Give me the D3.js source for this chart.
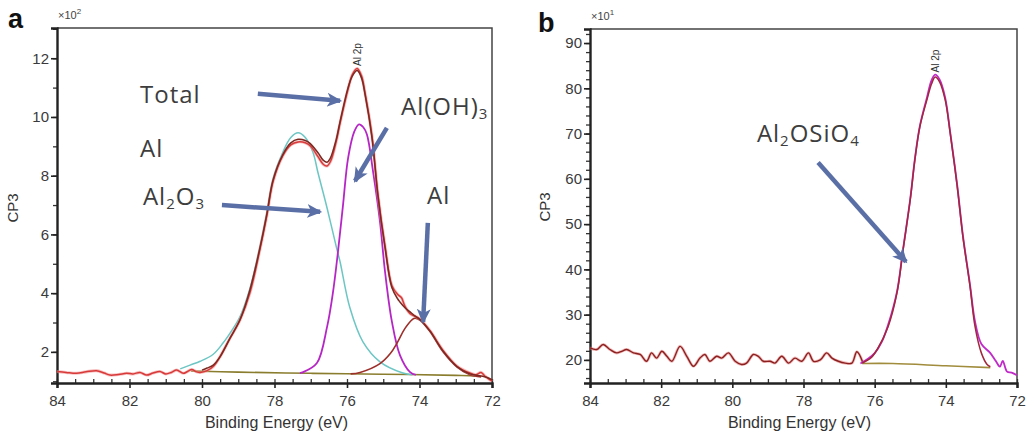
<!DOCTYPE html>
<html>
<head>
<meta charset="utf-8">
<script src="https://cdn.jsdelivr.net/npm/d3@7"></script>
<style>
  body { margin: 0; background: #fff; }
  svg { display: block; }
  .tick text { font-family: "Liberation Sans", Arial, sans-serif; font-size: 15px; fill: #3a3a3a; }
  .note { font-family: "Open Sans", Lato, sans-serif; font-size: 24px; fill: #3d3d3d; letter-spacing: 1px; }
</style>
</head>
<body>
<div id="chart"></div>
<script>
// ---- data (binding energy eV, counts) ----
const xTicks = [84, 82, 80, 78, 76, 74, 72];
const aYTicks = [2, 4, 6, 8, 10, 12];
const bYTicks = [20, 30, 40, 50, 60, 70, 80, 90];

// panel a, x10^2 counts
const aRaw = [[84,1.33],[83.75,1.3],[83.46,1.27],[83.2,1.32],[82.91,1.36],[82.7,1.28],[82.54,1.21],[82.3,1.23],[82.08,1.27],[81.9,1.25],[81.71,1.3],[81.53,1.21],[81.35,1.28],[81.16,1.33],[81.0,1.25],[80.85,1.3],[80.7,1.38],[80.52,1.27],[80.4,1.33],[80.28,1.4],[80.15,1.32],[80.05,1.3],[79.86,1.36],[79.69,1.5],[79.5,1.84],[79.23,2.46],[78.95,3.09],[78.68,4.0],[78.4,5.5],[78.21,6.65],[78.04,7.8],[77.77,8.68],[77.55,9.05],[77.35,9.15],[77.15,9.12],[77.0,9.0],[76.8,8.65],[76.65,8.38],[76.55,8.33],[76.45,8.5],[76.3,9.15],[76.19,9.8],[75.97,10.95],[75.85,11.45],[75.72,11.65],[75.6,11.4],[75.5,10.8],[75.31,9.35],[75.15,7.4],[74.95,5.6],[74.76,4.25],[74.6,3.95],[74.5,3.85],[74.4,3.55],[74.26,3.3],[74.1,3.2],[73.99,3.12],[73.71,2.72],[73.35,2.05],[72.97,1.52],[72.61,1.28],[72.45,1.22],[72.3,1.3],[72.2,1.18],[72.0,1.0]];
const aTotal = [[80.0,1.38],[79.86,1.45],[79.69,1.55],[79.5,1.84],[79.23,2.46],[78.95,3.1],[78.68,4.1],[78.4,5.55],[78.21,6.7],[78.04,7.85],[77.77,8.72],[77.55,9.12],[77.35,9.24],[77.15,9.2],[77.02,9.1],[76.8,8.78],[76.65,8.52],[76.55,8.46],[76.47,8.57],[76.3,9.22],[76.19,9.85],[75.97,11.0],[75.85,11.4],[75.72,11.58],[75.6,11.33],[75.5,10.75],[75.31,9.29],[75.15,7.35],[74.95,5.54],[74.76,4.18],[74.6,3.8],[74.54,3.7],[74.4,3.5],[74.26,3.36],[74.1,3.2],[73.99,3.1],[73.71,2.7],[73.35,2.02],[72.97,1.5],[72.61,1.25],[72.4,1.2],[72.2,1.15],[72.0,1.05]];
const aAl2O3 = [[80.6,1.42],[80.33,1.55],[80.05,1.68],[79.69,1.92],[79.42,2.3],[79.14,2.8],[78.95,3.2],[78.68,4.15],[78.4,5.6],[78.21,6.75],[78.04,7.9],[77.77,8.8],[77.55,9.3],[77.35,9.46],[77.15,9.3],[76.94,8.8],[76.8,8.1],[76.55,6.9],[76.28,5.5],[76.19,5.06],[75.92,3.5],[75.56,2.34],[75.09,1.66],[74.46,1.28],[74.2,1.22]];
const aAlOH3 = [[77.3,1.28],[77.21,1.31],[76.83,1.62],[76.55,2.85],[76.39,4.0],[76.25,5.4],[76.11,7.0],[75.97,8.6],[75.8,9.5],[75.67,9.75],[75.55,9.65],[75.45,9.4],[75.28,8.13],[75.09,6.43],[74.95,4.72],[74.76,3.02],[74.54,1.89],[74.26,1.31],[74.1,1.22]];
const aAl = [[75.9,1.25],[75.64,1.3],[75.09,1.6],[74.8,1.95],[74.62,2.3],[74.4,2.8],[74.2,3.1],[74.12,3.15],[73.95,3.05],[73.71,2.7],[73.35,2.0],[72.97,1.49],[72.61,1.22],[72.3,1.15]];
const aBackground = [[80.3,1.35],[79,1.31],[77,1.27],[75,1.24],[73,1.2],[72.4,1.18]];

// panel b, x10^1 counts
const bRaw = [[84,22.66],[83.81,22.3],[83.63,23.4],[83.44,22.3],[83.25,21.55],[83.11,21.9],[82.97,22.3],[82.78,21.55],[82.59,21.2],[82.41,19.7],[82.27,21.55],[82.13,20.4],[81.98,21.9],[81.84,20.8],[81.7,19.7],[81.47,23.0],[81.28,20.8],[81.09,18.6],[80.91,20.4],[80.77,21.2],[80.63,19.7],[80.44,20.8],[80.3,20.4],[80.11,21.55],[79.92,19.7],[79.74,19.0],[79.6,19.3],[79.41,21.2],[79.27,20.8],[79.13,19.7],[78.94,19.7],[78.8,19.3],[78.61,20.8],[78.42,19.3],[78.24,20.4],[78.05,19.7],[77.86,21.55],[77.72,19.7],[77.53,20.0],[77.35,21.55],[77.2,20.4],[77.02,19.7],[76.83,19.3],[76.64,19.3],[76.5,21.8],[76.33,19.4]];
const bFit = [[76.35,19.3],[76.1,20.5],[75.93,22.3],[75.62,27.4],[75.37,34.9],[75.2,44.4],[75.0,55.4],[74.87,64.2],[74.73,71.5],[74.53,77.5],[74.4,81],[74.3,82.5],[74.18,81.5],[74.02,77.5],[73.88,70.2],[73.68,58.3],[73.52,47.2],[73.32,36.2],[73.18,27.4],[73.0,21.5],[72.84,19.0],[72.75,18.5]];
const bEnvelope = [[76.4,19.2],[76.2,20.2],[76.0,21.5],[75.8,24.0],[75.62,27.8],[75.37,35.2],[75.2,44.6],[75.0,55.6],[74.87,64.4],[74.73,71.7],[74.53,78],[74.4,81.8],[74.3,83],[74.18,82],[74.02,78],[73.88,70.5],[73.68,58.6],[73.52,47.5],[73.32,36.6],[73.18,28.5],[73.0,23.5],[72.76,21.6],[72.6,19.8],[72.48,18.5],[72.4,19.8],[72.28,17.4],[72.15,17.2],[72.0,16.6]];
const bBackground = [[76.35,19.2],[75.5,19.2],[74,18.7],[72.75,18.3]];

// annotations: [label, E, counts]
const aLabels = [["Total",81.71,10.48],["Al",81.71,8.64],["Al|2|O|3",81.63,7.0],["Al(OH)|3",74.51,10.07],["Al",73.79,7.04]];
const aArrows = [[78.46,10.79,76.19,10.55],[79.45,7.0,76.74,6.77],[74.9,9.63,75.78,7.82],[73.77,6.39,73.9,3.02]];
const bLabels = [["Al|2|OSiO|4",79.31,68.2]];
const bArrows = [[77.59,63.6,75.12,41.7]];

const W = 1028, H = 438;
const svg = d3.select("#chart").append("svg").attr("width", W).attr("height", H);

svg.append("defs").html(`
<marker id="head" markerUnits="userSpaceOnUse" markerWidth="16" markerHeight="16" refX="13" refY="8" orient="auto">
  <path d="M0,1 L15,8 L0,15 L4,8 Z" fill="#5a6fa6"/>
</marker>`)

function drawPanel(cfg) {
  const g = svg.append("g").attr("transform", "translate(" + cfg.ml + "," + cfg.mt + ")");
  const x = d3.scaleLinear().domain([84, 72]).range([0, cfg.w]);
  const y = d3.scaleLinear().domain(cfg.yDomain).range([cfg.h, 0]);

  // frame top/right
  g.append("path").attr("d", `M0,0 H${cfg.w} V${cfg.h}`)
    .attr("fill", "none").attr("stroke", "#444").attr("stroke-width", 1.5);

  // minor ticks
  const xm = g.append("g").attr("transform", "translate(0," + cfg.h + ")")
    .call(d3.axisBottom(x).tickValues(d3.range(72, 84.01, 0.5)).tickSize(-4).tickFormat(""));
  xm.select(".domain").remove();
  const ym = g.append("g").call(d3.axisLeft(y).tickValues(cfg.yMinor).tickSize(4).tickFormat(""));
  ym.select(".domain").remove();
  g.selectAll(".tick line").attr("stroke", "#333").attr("stroke-width", 1.3);

  const xa = g.append("g").attr("transform", "translate(0," + cfg.h + ")")
    .call(d3.axisBottom(x).tickValues(xTicks).tickSize(5).tickPadding(4));
  const ya = g.append("g").call(d3.axisLeft(y).tickValues(cfg.yTicks).tickSize(6).tickPadding(2));
  [xa, ya].forEach(a => {
    a.select(".domain").attr("stroke", "#222").attr("stroke-width", 2.4);
    a.selectAll(".tick line").attr("stroke", "#222").attr("stroke-width", 1.6);
  });
  xa.selectAll(".tick text").attr("dy", "0.9em");

  // titles
  g.append("text").attr("x", cfg.w / 2 + cfg.titleDx).attr("y", cfg.h + 45)
    .attr("text-anchor", "middle").style("font-family", "Liberation Sans, Arial, sans-serif")
    .style("font-size", "16px").style("fill", "#333").text("Binding Energy (eV)");
  g.append("text").attr("transform", `translate(${cfg.ylx},${cfg.yly}) rotate(-90)`)
    .attr("text-anchor", "middle").style("font-family", "Liberation Sans, Arial, sans-serif")
    .style("font-size", "15px").style("fill", "#333").text("CP3");
  const sc = g.append("text").attr("x", 1).attr("y", -9)
    .style("font-family", "Liberation Sans, Arial, sans-serif").style("font-size", "11px").style("fill", "#444");
  sc.append("tspan").text("×10");
  sc.append("tspan").attr("dy", -5).style("font-size", "8px").text(cfg.exp);
  svg.append("text").attr("x", cfg.letterX).attr("y", cfg.letterY)
    .style("font-family", "Liberation Sans, Arial, sans-serif").style("font-weight", "bold")
    .style("font-size", "27px").style("fill", "#111").text(cfg.letter);

  const line = d3.line().curve(d3.curveCatmullRom.alpha(0.5))
    .x(d => x(d[0])).y(d => y(d[1]));

  cfg.series.forEach(s => {
    if (s.halo) g.append("path").attr("d", line(s.data)).attr("fill", "none")
      .attr("stroke", s.halo).attr("stroke-width", s.width + 1.6).attr("stroke-opacity", 0.55);
    g.append("path").attr("d", line(s.data)).attr("fill", "none")
      .attr("stroke", s.color).attr("stroke-width", s.width).attr("stroke-linejoin", "round");
  });

  // peak marker text
  g.append("text").attr("transform", `translate(${x(cfg.peak[0]) + 4},${y(cfg.peak[1]) - 4}) rotate(-90)`)
    .style("font-family", "Liberation Sans, Arial, sans-serif").style("font-size", "10px")
    .style("fill", "#333").text("Al 2p");

  // labels ("|" splits normal / subscript parts)
  cfg.labels.forEach(([lab, e, v]) => {
    const t = g.append("text").attr("class", "note").attr("x", x(e)).attr("y", y(v));
    lab.split("|").forEach((part, i) => {
      const sp = t.append("tspan").text(part);
      if (i % 2 === 1) sp.attr("dy", 4).style("font-size", "15px");
      else if (i > 0) sp.attr("dy", -4);
    });
  });

  cfg.arrows.forEach(([e0, v0, e1, v1]) => {
    g.append("line").attr("x1", x(e0)).attr("y1", y(v0)).attr("x2", x(e1)).attr("y2", y(v1))
      .attr("stroke", "#5a6fa6").attr("stroke-width", 4.5).attr("marker-end", "url(#head)");
  });
}

drawPanel({
  ml: 57, mt: 28, w: 435, h: 355, yDomain: [0.94, 13.03],
  yTicks: aYTicks, yMinor: d3.range(1, 13.01, 1), exp: "2",
  titleDx: 2, ylx: -39, yly: 180, letter: "a", letterX: 8, letterY: 28,
  peak: [75.72, 11.6],
  series: [
    {data: aBackground, color: "#8a7d2e", width: 1.6},
    {data: aAl2O3, color: "#6cc6c4", width: 1.5},
    {data: aAlOH3, color: "#b626c6", width: 1.8},
    {data: aAl, color: "#9c2f2a", width: 1.6},
    {data: aRaw, color: "#d83a3a", width: 1.5, halo: "#f09090"},
    {data: aTotal, color: "#7a2a22", width: 1.5}
  ],
  labels: aLabels, arrows: aArrows
});

drawPanel({
  ml: 590, mt: 29, w: 427, h: 354, yDomain: [14.9, 93.1],
  yTicks: bYTicks, yMinor: d3.range(16, 93, 2), exp: "1",
  titleDx: -4, ylx: -40, yly: 178, letter: "b", letterX: 538, letterY: 32,
  peak: [74.3, 82.6],
  series: [
    {data: bBackground, color: "#a08c3c", width: 1.6},
    {data: bRaw, color: "#8a2020", width: 1.4, halo: "#e88080"},
    {data: bEnvelope, color: "#c02ac8", width: 1.8},
    {data: bFit, color: "#a0283a", width: 1.5}
  ],
  labels: bLabels, arrows: bArrows
});
</script>
</body>
</html>
